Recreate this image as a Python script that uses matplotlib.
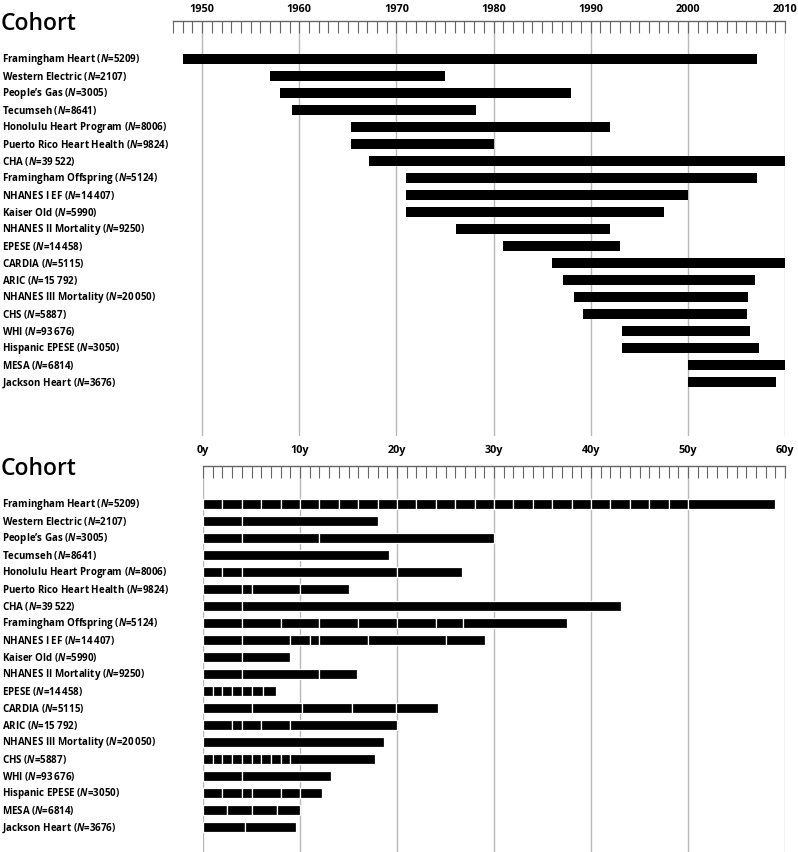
import matplotlib
matplotlib.use("Agg")
import matplotlib.pyplot as plt
import matplotlib.transforms as mtransforms
from matplotlib.ticker import MultipleLocator, FuncFormatter

plt.rcParams['font.family'] = ['Open Sans', 'DejaVu Sans']
plt.rcParams['mathtext.fontset'] = 'custom'
plt.rcParams['mathtext.it'] = 'Open Sans:italic:bold'
plt.rcParams['mathtext.rm'] = 'Open Sans:bold'

# ---------------- data ----------------
cohorts = ["Framingham Heart", "Western Electric", "People\u2019s Gas", "Tecumseh",
           "Honolulu Heart Program", "Puerto Rico Heart Health", "CHA",
           "Framingham Offspring", "NHANES I EF", "Kaiser Old", "NHANES II Mortality",
           "EPESE", "CARDIA", "ARIC", "NHANES III Mortality", "CHS", "WHI",
           "Hispanic EPESE", "MESA", "Jackson Heart"]
sizes = ["5209", "2107", "3005", "8641", "8006", "9824", "39\u2009522", "5124",
         "14\u2009407", "5990", "9250", "14\u2009458", "5115", "15\u2009792",
         "20\u2009050", "5887", "93\u2009676", "3050", "6814", "3676"]

start_year = [1948, 1957, 1958, 1959.2, 1965.3, 1965.3, 1967.2, 1971, 1971, 1971,
              1976.1, 1981, 1986, 1987.1, 1988.3, 1989.2, 1993.2, 1993.2, 2000, 2000]
end_year = [2007.1, 1975, 1988, 1978.2, 1992, 1980, 2010, 2007.1, 2000, 1997.5,
            1992, 1993, 2010, 2006.9, 2006.2, 2006.1, 2006.4, 2007.3, 2010, 2009.1]

exam_years = [
    [0, 2, 4, 6, 8, 10, 12, 14, 16, 18, 20, 22, 24, 26, 28, 30, 32, 34, 36, 38, 40,
     42, 44, 46, 48, 50],
    [0, 4],
    [0, 4, 12],
    [0],
    [0, 2, 4, 20],
    [0, 4, 5, 10],
    [0, 4],
    [0, 4, 8, 12, 16, 20, 24, 26.8],
    [0, 4, 9, 11, 12, 17, 25],
    [0, 4],
    [0, 4, 12],
    [0, 1, 2, 3, 4, 5, 6.2],
    [0, 5, 10.2, 15.4, 19.9],
    [0, 3, 4, 6, 9],
    [0],
    [0, 1, 2, 3, 4, 5, 6, 7, 8, 9],
    [0, 4],
    [0, 2, 4, 5, 8, 10],
    [0, 2.5, 5, 7.6],
    [0, 4.3],
]
followup = [59, 18, 30, 19.2, 26.7, 15, 43.1, 37.5, 29.1, 9, 15.9, 7.5, 24.2, 20,
            18.7, 17.7, 13.2, 12.3, 10, 9.6]

year_ticks = [1950, 1960, 1970, 1980, 1990, 2000, 2010]
dur_ticks = [0, 10, 20, 30, 40, 50, 60]

# ---------------- figure ----------------
W, H = 798, 853
fig = plt.figure(figsize=(W / 100, H / 100), dpi=100)

GRID = '#b8b8b8'
AXC = '#666666'


def fy(py):
    return 1 - py / H


def setup_axis(ax, ticks, fmt, pad):
    for s in ['left', 'right', 'bottom']:
        ax.spines[s].set_visible(False)
    ax.spines['top'].set_color(AXC)
    ax.spines['top'].set_linewidth(1.0)
    ax.xaxis.tick_top()
    ax.set_xticks(ticks)
    ax.xaxis.set_major_formatter(FuncFormatter(fmt))
    ax.xaxis.set_minor_locator(MultipleLocator(1))
    ax.tick_params(axis='x', which='both', direction='in', length=8.5, width=0.8,
                   color=AXC, pad=pad, labelsize=7.8)
    for lab in ax.get_xticklabels():
        lab.set_fontweight('bold')
    ax.tick_params(axis='y', left=False, labelleft=False)
    ax.grid(axis='x', which='major', color=GRID, lw=1.0)
    ax.set_axisbelow(True)


def row_labels(ax):
    tr = mtransforms.blended_transform_factory(fig.transFigure, ax.transData)
    for i, (c, n) in enumerate(zip(cohorts, sizes)):
        ax.text(2 / W, i, f"{c} ($\\mathit{{N}}$={n})", transform=tr, ha='left',
                va='center', fontsize=7.0, fontweight='bold', color='black')


def title(py):
    fig.text(1 / W, fy(py), "Cohort", fontsize=16.5, ha='left', va='baseline',
             fontweight='semibold', color='black')


# top panel: calendar years
ax1 = fig.add_axes([173 / W, fy(437), (785 - 173) / W, (437 - 22) / H])
ax1.set_xlim(1947, 2010)
ax1.set_ylim((437 - 60) / 17.0, -(60 - 22) / 17.0)
setup_axis(ax1, year_ticks, lambda v, p: f"{int(round(v))}", 5)
rows = list(range(len(cohorts)))
ax1.barh(rows, [e - s for s, e in zip(start_year, end_year)], left=start_year,
         height=0.58, color='black', edgecolor='none')
row_labels(ax1)
title(30)

# bottom panel: follow-up duration with exams
ax2 = fig.add_axes([203 / W, 0, (785 - 203) / W, fy(467)])
ax2.set_xlim(0, 60)
ax2.set_ylim((853 - 505) / 17.0, -(505 - 467) / 17.0)
setup_axis(ax2, dur_ticks, lambda v, p: f"{int(round(v))}y", 8)
for i, (ex, fu) in enumerate(zip(exam_years, followup)):
    bounds = list(ex) + [fu]
    lefts = bounds[:-1]
    widths = [b - a for a, b in zip(bounds[:-1], bounds[1:])]
    ax2.barh([i] * len(lefts), widths, left=lefts, height=0.56, color='black',
             edgecolor='white', linewidth=0.9)
row_labels(ax2)
title(475)

fig.savefig("out.png", dpi=100)
